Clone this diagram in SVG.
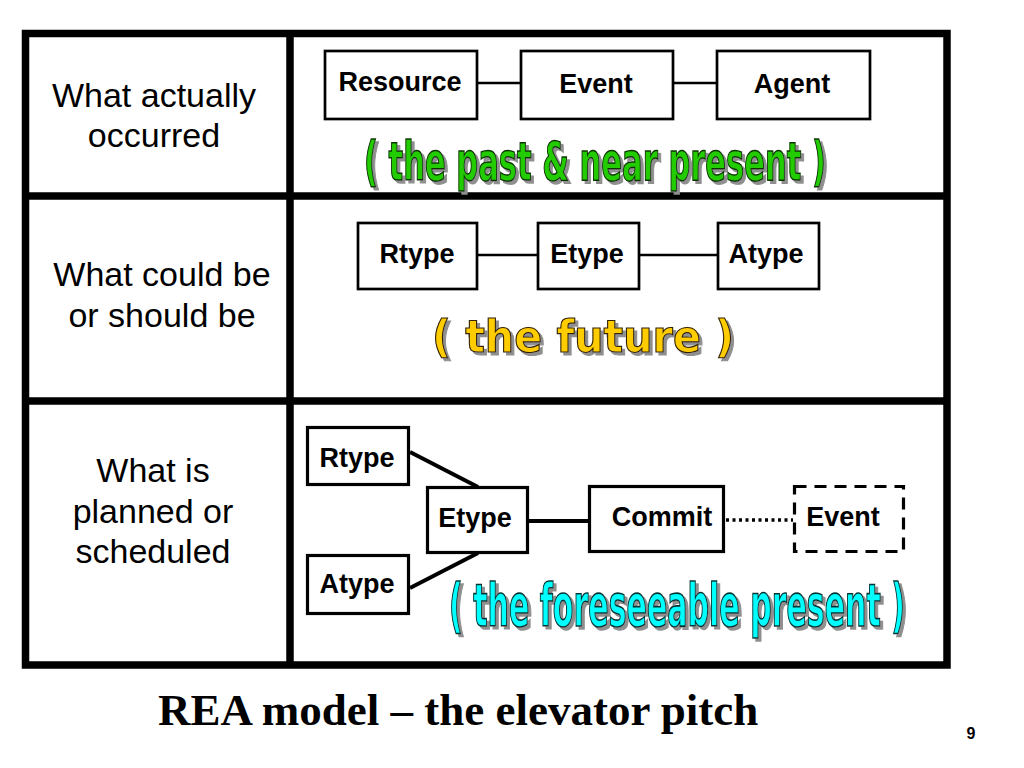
<svg xmlns="http://www.w3.org/2000/svg" width="1024" height="768" viewBox="0 0 1024 768">
<style>
.grid{fill:none;stroke:#000;stroke-width:7.5}
.box{fill:#fff;stroke:#000;stroke-width:2.7}
.box3{fill:#fff;stroke:#000;stroke-width:3.2}
.dash{fill:#fff;stroke:#000;stroke-width:3.2;stroke-dasharray:12 8}
.lbl{font-family:"Liberation Sans",Arial,sans-serif;font-weight:bold;font-size:27px;text-anchor:middle;fill:#000}
.side{font-family:"Liberation Sans",Arial,sans-serif;font-size:34px;text-anchor:middle;fill:#000}
.conn{stroke:#000;stroke-width:2.7;fill:none}
.conn3{stroke:#000;stroke-width:4;fill:none}
.dot{stroke:#000;stroke-width:3.5;stroke-dasharray:3 3.5;fill:none}
.wa{font-family:"DejaVu Sans Condensed","DejaVu Sans",sans-serif;font-stretch:condensed;font-weight:bold;font-size:37px}
.wy{font-family:"DejaVu Sans",sans-serif;font-weight:bold;font-size:45px}
</style>
<defs>
<filter id="sh" x="-5%" y="-20%" width="110%" height="150%">
<feDropShadow dx="3" dy="3" stdDeviation="0.4" flood-color="#8f8f8f" flood-opacity="1"/>
</filter>
</defs>
<rect width="1024" height="768" fill="#fff"/>
<g id="table">
<rect class="grid" x="25.5" y="33.5" width="921.5" height="631.5"/>
<line class="grid" x1="25.5" y1="196" x2="947" y2="196"/>
<line class="grid" x1="25.5" y1="401" x2="947" y2="401"/>
<line class="grid" x1="290" y1="33.5" x2="290" y2="665"/>
</g>
<g id="row-labels">
<text class="side" x="154" y="107">What actually</text>
<text class="side" x="154" y="147">occurred</text>
<text class="side" x="162" y="286">What could be</text>
<text class="side" x="162" y="327">or should be</text>
<text class="side" x="153" y="482">What is</text>
<text class="side" x="153" y="523">planned or</text>
<text class="side" x="153" y="563">scheduled</text>
</g>
<g id="connectors">
<line class="conn" x1="478" y1="83" x2="520" y2="83"/>
<line class="conn" x1="674" y1="83" x2="716" y2="83"/>
<line class="conn" x1="478" y1="255" x2="537" y2="255"/>
<line class="conn" x1="640" y1="255" x2="717" y2="255"/>
<line class="conn3" x1="410" y1="452" x2="478" y2="487"/>
<line class="conn3" x1="410" y1="588" x2="478" y2="553"/>
<line class="conn3" x1="529" y1="521" x2="588" y2="521"/>
<line class="dot" x1="726" y1="520" x2="793" y2="520"/>
</g>
<g id="n-resource"><rect class="box" x="325" y="51" width="152" height="68"/><text class="lbl" x="400" y="91">Resource</text></g>
<g id="n-event"><rect class="box" x="521" y="51" width="152" height="68"/><text class="lbl" x="596" y="93">Event</text></g>
<g id="n-agent"><rect class="box" x="717" y="51" width="153" height="68"/><text class="lbl" x="792" y="93">Agent</text></g>
<g id="n-rtype2"><rect class="box" x="358" y="223" width="119" height="66"/><text class="lbl" x="417" y="263">Rtype</text></g>
<g id="n-etype2"><rect class="box" x="538" y="223" width="101" height="66"/><text class="lbl" x="587" y="263">Etype</text></g>
<g id="n-atype2"><rect class="box" x="718" y="223" width="101" height="66"/><text class="lbl" x="766" y="263">Atype</text></g>
<g id="n-rtype3"><rect class="box3" x="307.5" y="427.5" width="101" height="57"/><text class="lbl" x="357" y="467">Rtype</text></g>
<g id="n-etype3"><rect class="box3" x="427.5" y="487.5" width="100" height="65"/><text class="lbl" x="475" y="527">Etype</text></g>
<g id="n-atype3"><rect class="box3" x="307.5" y="555.5" width="101" height="58"/><text class="lbl" x="357" y="593">Atype</text></g>
<g id="n-commit"><rect class="box3" x="589.5" y="486.5" width="134" height="65"/><text class="lbl" x="662" y="526">Commit</text></g>
<g id="n-event3"><rect class="dash" x="794.5" y="486.5" width="109" height="65"/><text class="lbl" x="843" y="526">Event</text></g>
<g id="wa-past" filter="url(#sh)">
<g transform="translate(364,180) scale(1,1.42)"><text class="wa" x="0" y="0" textLength="462" lengthAdjust="spacingAndGlyphs" fill="#22CC00" stroke="#0a3300" stroke-width="1">( the past &amp; near present )</text></g>
</g>
<g id="wa-future" filter="url(#sh)">
<text class="wy" x="432" y="352" textLength="302" lengthAdjust="spacingAndGlyphs" fill="#FFCC00" stroke="#332200" stroke-width="1.2">( the future )</text>
</g>
<g id="wa-foreseeable" filter="url(#sh)">
<g transform="translate(449,626) scale(1,1.6)"><text class="wa" x="0" y="0" textLength="456" lengthAdjust="spacingAndGlyphs" fill="#00FFFF" stroke="#003333" stroke-width="1">( the foreseeable present )</text></g>
</g>
<g id="title">
<text x="158" y="725" font-family="Liberation Serif,'Times New Roman',serif" font-weight="bold" font-size="45">REA model – the elevator pitch</text>
<text x="971" y="739" font-family="Liberation Sans,Arial,sans-serif" font-weight="bold" font-size="16" text-anchor="middle">9</text>
</g>
</svg>
